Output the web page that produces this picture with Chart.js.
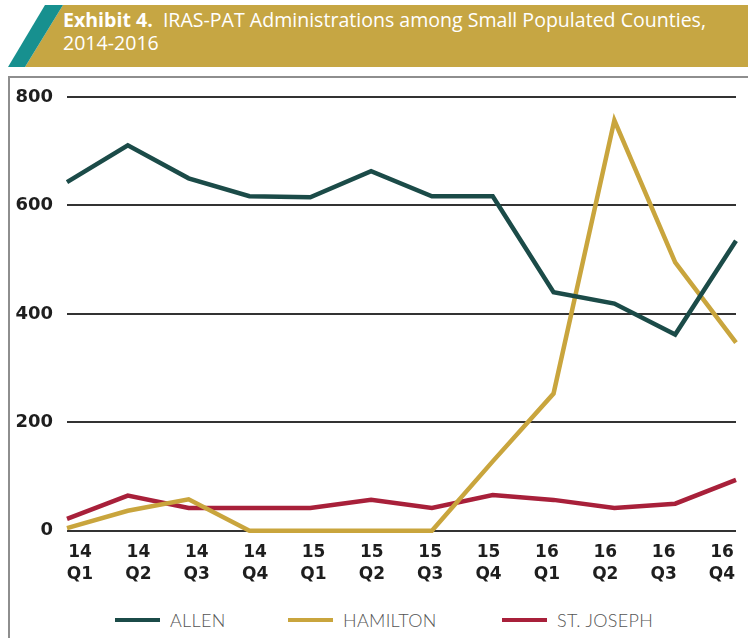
<!DOCTYPE html>
<html>
<head>
<meta charset="utf-8">
<script src="https://cdn.jsdelivr.net/npm/chart.js@4/dist/chart.umd.min.js"></script>
<style>
  html, body { margin: 0; padding: 0; background: #fff; }
  body { width: 748px; height: 638px; position: relative; overflow: hidden; }
  #banner { position: absolute; left: 0; top: 0; width: 748px; height: 68px; }
  #title { position: absolute; left: 63px; top: 8px; color: #fff; font-family: "Open Sans", sans-serif; font-size: 20px; line-height: 23px; white-space: nowrap; transform-origin: 0 0; }
  #title b { font-weight: 700; }
  #frame { position: absolute; left: 8px; top: 76px; width: 740px; height: 562px; border-left: 2px solid #8e8e8e; border-top: 2px solid #8e8e8e; box-sizing: border-box; }
  #wrap { position: absolute; left: 0; top: 78px; width: 748px; height: 520px; }
  #legend { position: absolute; left: 0; top: 608px; width: 748px; height: 24px; }
  .item { position: absolute; top: 0; height: 24px; display: flex; align-items: center; font-family: "Lato", "Open Sans", sans-serif; font-weight: 300; font-size: 18px; color: #555; letter-spacing: 0.3px; }
  .swatch { width: 45px; height: 4px; margin-right: 10px; }
</style>
</head>
<body>
<svg id="banner" width="748" height="68">
  <polygon points="63,5 748,5 748,67 25,67" fill="#c6a643"/>
  <polygon points="45,5 63,5 25,67 8,67" fill="#17908f"/>
</svg>
<div id="title"><span id="line1"><b>Exhibit 4.</b>&nbsp; IRAS-PAT Administrations among Small Populated Counties,</span><br>2014-2016</div>
<div id="frame"></div>
<div id="wrap"><canvas id="c" width="748" height="520"></canvas></div>
<div id="legend"></div>
<script>
const categories = [
  ['14','Q1'], ['14','Q2'], ['14','Q3'], ['14','Q4'],
  ['15','Q1'], ['15','Q2'], ['15','Q3'], ['15','Q4'],
  ['16','Q1'], ['16','Q2'], ['16','Q3'], ['16','Q4']
];
const seriesNames = ['ALLEN', 'HAMILTON', 'ST. JOSEPH'];
const allen    = [643, 711, 650, 617, 615, 663, 617, 617, 440, 419, 362, 535];
const hamilton = [5, 37, 58, 0, 0, 0, 0, 128, 253, 757, 495, 347];
const stJoseph = [22, 65, 42, 42, 42, 57, 42, 66, 57, 42, 50, 94];
const yTicks = [0, 200, 400, 600, 800];
const colors = ['#1b4b48', '#c9a53d', '#a8203a'];

// fit title width
const title = document.getElementById('title');
const l1 = document.getElementById('line1');
const w = l1.getBoundingClientRect().width;
title.style.transform = 'scaleX(' + (643 / w) + ')';

const seriesData = [allen, hamilton, stJoseph];

new Chart(document.getElementById('c'), {
  type: 'line',
  data: {
    labels: categories.map(c => c.join(' ')),
    datasets: seriesData.map((d, i) => ({
      label: seriesNames[i],
      data: d,
      borderColor: colors[i],
      backgroundColor: colors[i],
      borderWidth: 4.5,
      pointRadius: 0,
      tension: 0,
      clip: false,
      xAxisID: 'x'
    }))
  },
  options: {
    responsive: false,
    animation: false,
    devicePixelRatio: 1,
    layout: { padding: { left: 15, right: 12, top: 19, bottom: 1 } },
    plugins: { legend: { display: false }, tooltip: { enabled: false } },
    scales: {
      x: {
        type: 'category',
        display: false,
        offset: false
      },
      xl: {
        type: 'linear',
        position: 'bottom',
        min: -0.223,
        max: 11.24,
        offset: false,
        grid: { display: false, drawTicks: false },
        border: { display: false },
        afterFit: s => { s.paddingLeft = 0; s.paddingRight = 0; },
        ticks: {
          stepSize: 1,
          includeBounds: false,
          autoSkip: false,
          maxRotation: 0,
          padding: 11,
          color: '#1e1e1e',
          font: { family: '"DejaVu Sans", sans-serif', weight: 'bold', size: 17, lineHeight: 1.3 },
          callback: v => (Number.isInteger(v) && categories[v]) ? categories[v] : ''
        }
      },
      y: {
        min: 0,
        max: 800,
        grid: { color: '#333', lineWidth: 2, drawTicks: false },
        border: { display: false },
        afterBuildTicks: s => { s.ticks = yTicks.map(v => ({ value: v })); },
        afterFit: s => { s.width = 52; s.paddingTop = 0; s.paddingBottom = 0; },
        ticks: {
          autoSkip: false,
          padding: 14,
          color: '#1e1e1e',
          font: { family: '"DejaVu Sans", sans-serif', weight: 'bold', size: 18 }
        }
      }
    }
  }
});

// legend
const legend = document.getElementById('legend');
const lefts = [115, 288, 502];
seriesNames.forEach((n, i) => {
  const it = document.createElement('div');
  it.className = 'item';
  it.style.left = lefts[i] + 'px';
  const sw = document.createElement('div');
  sw.className = 'swatch';
  sw.style.background = colors[i];
  it.appendChild(sw);
  it.appendChild(document.createTextNode(n));
  legend.appendChild(it);
});
</script>
</body>
</html>
